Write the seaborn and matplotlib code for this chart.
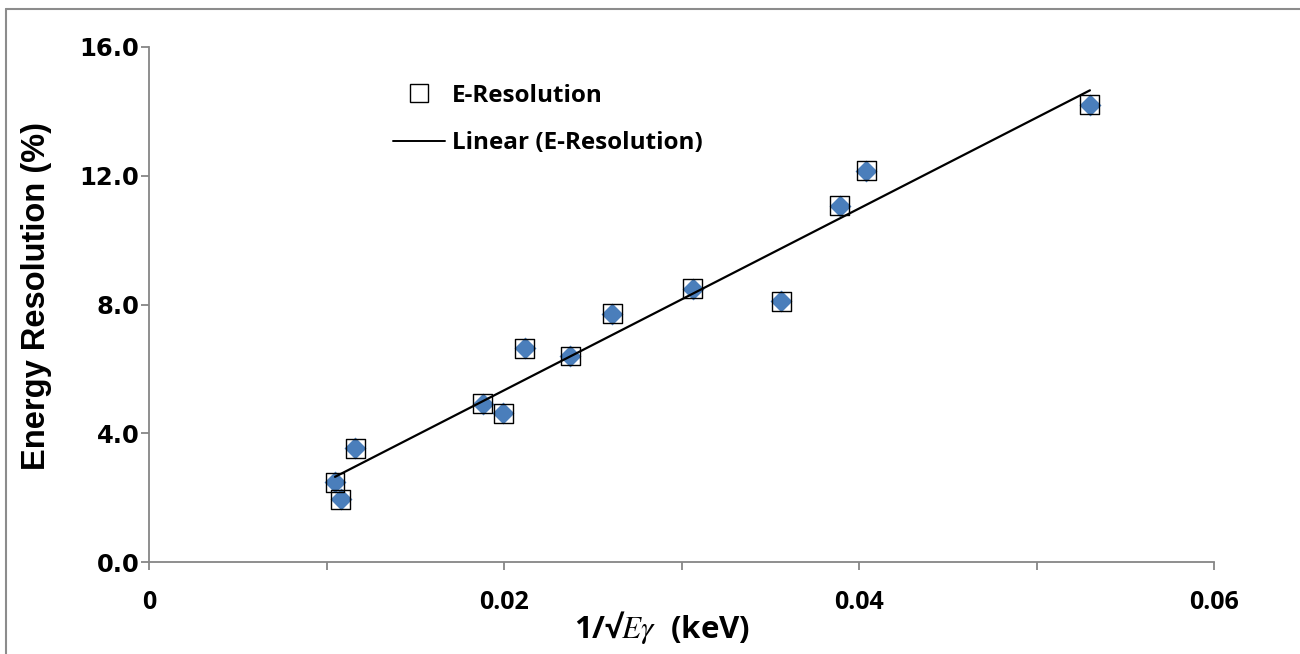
import numpy as np
import pandas as pd
import matplotlib
matplotlib.use("Agg")
import matplotlib.pyplot as plt
from matplotlib.lines import Line2D
import seaborn as sns

# ---- data ----
inv_sqrt_e = [0.01048, 0.01081, 0.01161, 0.01879, 0.01997, 0.02116, 0.02373,
              0.02610, 0.03063, 0.03561, 0.03891, 0.04042, 0.05301]
resolution = [2.47, 1.95, 3.53, 4.92, 4.62, 6.64, 6.40,
              7.71, 8.49, 8.10, 11.07, 12.16, 14.21]
x_ticks = [0, 0.01, 0.02, 0.03, 0.04, 0.05, 0.06]
x_tick_labels = ["0", "", "0.02", "", "0.04", "", "0.06"]
y_ticks = [0, 4, 8, 12, 16]
y_tick_labels = ["0.0", "4.0", "8.0", "12.0", "16.0"]
series_label = "E-Resolution"
trend_label = "Linear (E-Resolution)"

df = pd.DataFrame({"x": inv_sqrt_e, "y": resolution})

sns.set_theme(style="white")
plt.rcParams["mathtext.fontset"] = "stix"
plt.rcParams["text.color"] = "black"

W, H = 1300, 654
fig = plt.figure(figsize=(W / 100, H / 100), dpi=100)
ax = fig.add_axes([149 / W, 1 - 562 / H, (1214 - 149) / W, (562 - 47) / H])

blue = "#4A7EBB"
gray = "#868686"
sans = "Open Sans"

sns.scatterplot(data=df, x="x", y="y", marker="D", s=125, color=blue,
                linewidth=0, ax=ax, label="_nolegend_", zorder=3)
sns.scatterplot(data=df, x="x", y="y", marker="s", s=185, facecolor="none",
                edgecolor="black", linewidth=1.0, ax=ax, label=series_label, zorder=4)
sns.regplot(data=df, x="x", y="y", scatter=False, ci=None, truncate=True,
            color="black", line_kws={"linewidth": 1.6, "zorder": 5}, ax=ax,
            label=trend_label)

ax.set_xlim(0, 0.06)
ax.set_ylim(0, 16)
ax.set_xticks(x_ticks)
ax.set_xticklabels(x_tick_labels, fontfamily=sans, fontweight="bold", fontsize=18)
ax.set_yticks(y_ticks)
ax.set_yticklabels(y_tick_labels, fontfamily="DejaVu Sans", fontweight="bold", fontsize=17.5)

for s in ["top", "right"]:
    ax.spines[s].set_visible(False)
for s in ["left", "bottom"]:
    ax.spines[s].set_color(gray)
    ax.spines[s].set_linewidth(1.3)
ax.tick_params(axis="both", which="major", direction="out", length=6,
               width=1.3, color=gray, bottom=True, left=True, labelcolor="black")
ax.tick_params(axis="x", pad=14)
ax.tick_params(axis="y", pad=1)
ax.grid(False)

ax.set_ylabel("Energy Resolution (%)", fontfamily="Liberation Sans",
              fontweight="bold", fontsize=23.5, color="black")
ax.yaxis.set_label_coords(-0.091, 0.517)
ax.set_xlabel(r"1/√$E\gamma$  (keV)", fontfamily=sans, fontweight="bold",
              fontsize=22.5, color="black")
ax.xaxis.set_label_coords(0.482, -0.091)
ax.xaxis.label.set_verticalalignment("top")

handles = [
    Line2D([], [], linestyle="none", marker="s", markersize=13, markerfacecolor="none",
           markeredgecolor="black", markeredgewidth=1.0),
    Line2D([], [], color="black", linewidth=1.4),
]
leg = ax.legend(handles, [series_label, trend_label], loc="upper left",
                bbox_to_anchor=(393 / W, 1 - 84 / H), bbox_transform=fig.transFigure,
                frameon=False, prop={"family": sans, "weight": "bold", "size": 17.5},
                handlelength=2.15, handletextpad=0.27, labelspacing=0.95, borderpad=0,
                borderaxespad=0)
for t in leg.get_texts():
    t.set_color("black")

# outer chart border
bc = "#8c8c8c"
fig.add_artist(Line2D([6 / W, 6 / W], [0, 1 - 8.7 / H], color=bc, linewidth=1.5,
                      transform=fig.transFigure))
fig.add_artist(Line2D([6 / W, 1], [1 - 8.7 / H, 1 - 8.7 / H], color=bc, linewidth=1.5,
                      transform=fig.transFigure))

fig.savefig("out.png", dpi=100)
